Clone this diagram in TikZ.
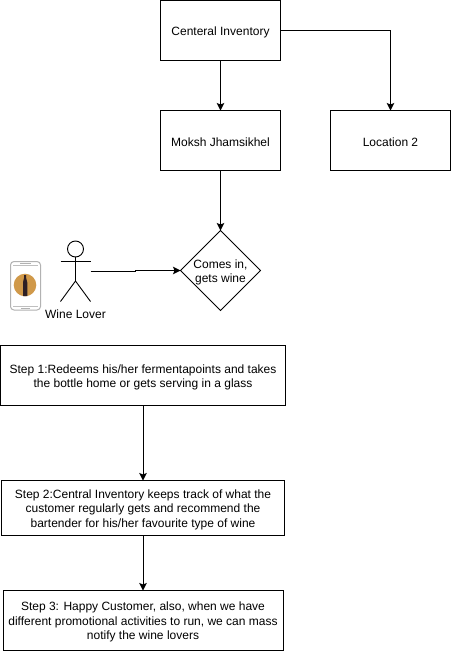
\documentclass[tikz,border=0pt]{standalone}
\usepackage{fontspec}
\setmainfont{Liberation Sans}
\usetikzlibrary{shapes.geometric,arrows.meta}
\definecolor{winegold}{HTML}{D0994A}
\definecolor{bottle}{HTML}{2E1F24}
\newcommand{\tstrut}{\rule{0pt}{12.2pt}}
\tikzset{
  x=1pt,y=-1pt,
  every node/.style={font=\fontsize{12}{14.6}\selectfont,align=center,inner sep=0pt,outer sep=0pt},
  boxnode/.style={draw=black,line width=1pt,minimum width=#1,anchor=center},
  link/.style={draw=black,line width=1pt,-{Stealth[length=7.5pt,width=7.5pt,inset=1.5pt]}},
  stick/.style={draw=black,line width=0.9pt}
}
\begin{document}
\begin{tikzpicture}
\useasboundingbox (0,0) rectangle (451,651);
\fill[white] (0,0) rectangle (451,651);
\node[boxnode=120pt,minimum height=60pt] (inv) at (220.5,30.5) {\tstrut Centeral Inventory};
\node[boxnode=120pt,minimum height=60pt] (moksh) at (220.5,140.5) {\tstrut Moksh Jhamsikhel};
\node[boxnode=120pt,minimum height=60pt] (loc) at (390.5,140.5) {\tstrut Location 2};
\node[draw=black,line width=1pt,diamond,aspect=1,minimum width=80pt,minimum height=80pt,
  label={[name=declabel]center:\tstrut Comes in,\\gets wine}] (dec) at (220.5,270.5) {};
\node[boxnode=285pt,minimum height=60pt] (s1) at (143,375.5) {\tstrut Step 1:Redeems his/her fermentapoints and takes\\the bottle home or gets serving in a glass};
\node[boxnode=283pt,minimum height=55pt] (s2) at (143,508) {\tstrut Step 2:Central Inventory keeps track of what the\\customer regularly gets and recommend the\\bartender for his/her favourite type of wine};
\node[boxnode=280pt,minimum height=60pt] (s3) at (143,620.5) {\tstrut Step 3: Happy Customer, also, when we have\\different promotional activities to run, we can mass\\notify the wine lovers};
% actor
\node[draw=black,line width=0.9pt,circle,minimum size=16pt] (head) at (75.5,249) {};
\coordinate (neck) at (75.5,257);
\coordinate (hip) at (75.5,281);
\coordinate (armL) at (60.5,261.5);
\coordinate (armR) at (90.5,261.5);
\coordinate (footL) at (60.5,301.5);
\coordinate (footR) at (90.5,301.5);
\coordinate (actorout) at (90.5,271.5);
\coordinate (actorbend) at (135.5,271.5);
\coordinate (actorjog) at (135.5,270.5);
\draw[stick] (neck) -- (hip);
\draw[stick] (armL) -- (armR);
\draw[stick] (footL) -- (hip) -- (footR);
\node (lover) at (75.5,314.5) {Wine Lover};
% phone
\draw[draw=black!30,line width=1pt,fill=white,rounded corners=3.5pt] (10.5,261.5) rectangle (40.5,310);
\draw[draw=black!25,line width=0.6pt] (13,265.5) -- (38,265.5) (13,306) -- (38,306);
\draw[draw=black!30,line width=0.8pt] (20,263.6) -- (31,263.6) (21,308) -- (30,308);
\fill[winegold] (25,285) circle (11.3);
\fill[bottle] (23,296) -- (23,282.5) .. controls (23,280) and (24.1,280) .. (24.1,277.5) -- (24.1,275) -- (26,275) -- (26,277.5) .. controls (26,280) and (27.3,280) .. (27.3,282.5) -- (27.3,296) -- cycle;
% connectors
\draw[link] (inv) -- (moksh);
\draw[link] (inv.east) -| (loc.north);
\draw[link] (moksh) -- (dec);
\draw[link] (actorout) -- (actorbend) -- (actorjog) -- (dec.west);
\draw[link] (s1) -- (s2);
\draw[link] (s2) -- (s3);
\end{tikzpicture}
\end{document}
